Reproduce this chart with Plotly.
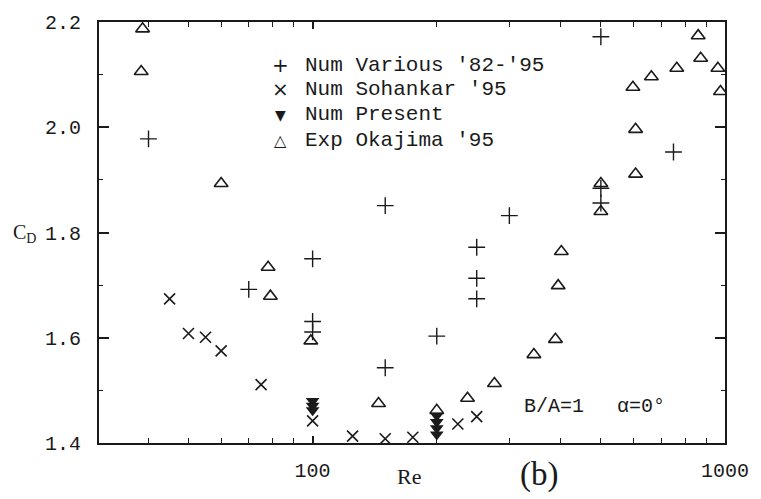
import plotly.graph_objects as go

# Drag coefficient of a square cylinder (B/A = 1, alpha = 0 deg) versus Reynolds number
various_re = [40, 70, 100, 100, 100, 150, 150, 200, 250, 250, 250, 300, 500, 500, 500, 750]
various_cd = [1.978, 1.692, 1.750, 1.631, 1.611, 1.851, 1.543, 1.603, 1.772, 1.713,
              1.674, 1.832, 2.172, 1.884, 1.856, 1.953]

sohankar_re = [45, 50, 55, 60, 75, 100, 125, 150, 175, 225, 250]
sohankar_cd = [1.674, 1.608, 1.601, 1.575, 1.511, 1.442, 1.413, 1.408, 1.411, 1.436, 1.450]

present_re = [100, 100, 100, 200, 200, 200, 200]
present_cd = [1.480, 1.471, 1.462, 1.452, 1.440, 1.428, 1.416]

okajima_re = [38.7, 38.4, 60, 78, 79, 99, 144.5, 200, 237.5, 276, 344, 388, 394, 401,
              500, 500, 598, 607, 607, 663, 764, 861, 873, 961, 975]
okajima_cd = [2.187, 2.106, 1.893, 1.734, 1.679, 1.594, 1.475, 1.462, 1.485, 1.513, 1.568,
              1.597, 1.699, 1.764, 1.893, 1.840, 2.076, 1.996, 1.911, 2.096, 2.112, 2.174,
              2.131, 2.112, 2.068]

series_names = ["Num Various '82-'95", "Num Sohankar '95", "Num Present", "Exp Okajima '95"]
series_keys = ["+", "×", "▼", "△"]

x_major = [100, 1000]
x_major_text = ["100", "1000"]
x_minor = [40, 50, 60, 70, 80, 90, 200, 300, 400, 500, 600, 700, 800, 900]
y_major = [1.4, 1.6, 1.8, 2.0, 2.2]
y_major_text = ["1.4", "1.6", "1.8", "2.0", "2.2"]
y_minor = [1.5, 1.7, 1.9, 2.1]

INK = "#1a1a1a"
MONO = "Liberation Mono"
SERIF = "Liberation Serif"

fig = go.Figure()
fig.add_trace(go.Scatter(
    x=various_re, y=various_cd, mode="markers", name=series_names[0],
    marker=dict(symbol="cross-thin-open", size=12, color=INK,
                line=dict(color=INK, width=1.4))))
fig.add_trace(go.Scatter(
    x=sohankar_re, y=sohankar_cd, mode="markers", name=series_names[1],
    marker=dict(symbol="x-thin-open", size=11, color=INK,
                line=dict(color=INK, width=1.6))))
fig.add_trace(go.Scatter(
    x=present_re, y=present_cd, mode="markers", name=series_names[2],
    marker=dict(symbol="triangle-down", size=12, color=INK, line=dict(width=0))))
fig.add_trace(go.Scatter(
    x=okajima_re, y=okajima_cd, mode="markers", name=series_names[3],
    marker=dict(symbol="triangle-up-open", size=12, color=INK,
                line=dict(color=INK, width=1.6))))

axis_common = dict(
    showgrid=False, zeroline=False, showline=True, linecolor=INK, linewidth=2,
    mirror="allticks", ticks="inside", tickcolor=INK,
    tickfont=dict(family=MONO, size=20, color=INK),
)

fig.update_xaxes(
    type="log", range=[1.482, 3.0],
    tickmode="array", tickvals=x_major, ticktext=x_major_text,
    ticklen=7, tickwidth=1.5, ticklabelstandoff=8,
    minor=dict(tickmode="array", tickvals=x_minor, ticks="inside", ticklen=5,
               tickwidth=1.2, tickcolor=INK, showgrid=False),
    **axis_common)
fig.update_yaxes(
    range=[1.4, 2.2],
    tickmode="array", tickvals=y_major, ticktext=y_major_text,
    ticklen=10, tickwidth=1.5, ticklabelstandoff=12,
    minor=dict(tickmode="array", tickvals=y_minor, ticks="inside", ticklen=4,
               tickwidth=1.2, tickcolor=INK, showgrid=False),
    **axis_common)

# Key in the upper middle of the plot: symbol glyph plus series name per row
key_rows_y = [0.897, 0.840, 0.7795, 0.718]
key_sizes = [20, 20, 14, 16]
for name, key, ky, ks in zip(series_names, series_keys, key_rows_y, key_sizes):
    fig.add_annotation(text=key, xref="paper", yref="paper", x=0.2907, y=ky,
                       xanchor="center", yanchor="middle", showarrow=False,
                       font=dict(family="DejaVu Sans", size=ks, color=INK))
    fig.add_annotation(text=name, xref="paper", yref="paper", x=0.3254, y=ky,
                       xanchor="left", yanchor="middle", showarrow=False,
                       font=dict(family=MONO, size=21, color=INK))

fig.add_annotation(text="C<sub>D</sub>", xref="paper", yref="paper", x=-0.14, y=0.497,
                   showarrow=False, font=dict(family=SERIF, size=20, color=INK))
fig.add_annotation(text="Re", xref="paper", yref="paper", x=0.496, y=-0.08,
                   yanchor="middle", showarrow=False,
                   font=dict(family=SERIF, size=22, color=INK))
fig.add_annotation(text="(b)", xref="paper", yref="paper", x=0.736, y=-0.075,
                   yanchor="middle", showarrow=False,
                   font=dict(family=SERIF, size=33, color=INK))
fig.add_annotation(text="B/A=1", xref="paper", yref="paper", x=0.778, y=0.087,
                   yanchor="middle", showarrow=False,
                   font=dict(family=MONO, size=20, color=INK))
fig.add_annotation(text="α=0°", xref="paper", yref="paper", x=0.908, y=0.087,
                   yanchor="middle", showarrow=False,
                   font=dict(family=MONO, size=20, color=INK))

fig.update_layout(
    width=761, height=499,
    margin=dict(l=99, r=29, t=18, b=56),
    paper_bgcolor="white", plot_bgcolor="white",
    showlegend=False,
)

fig.write_html("out.html")
